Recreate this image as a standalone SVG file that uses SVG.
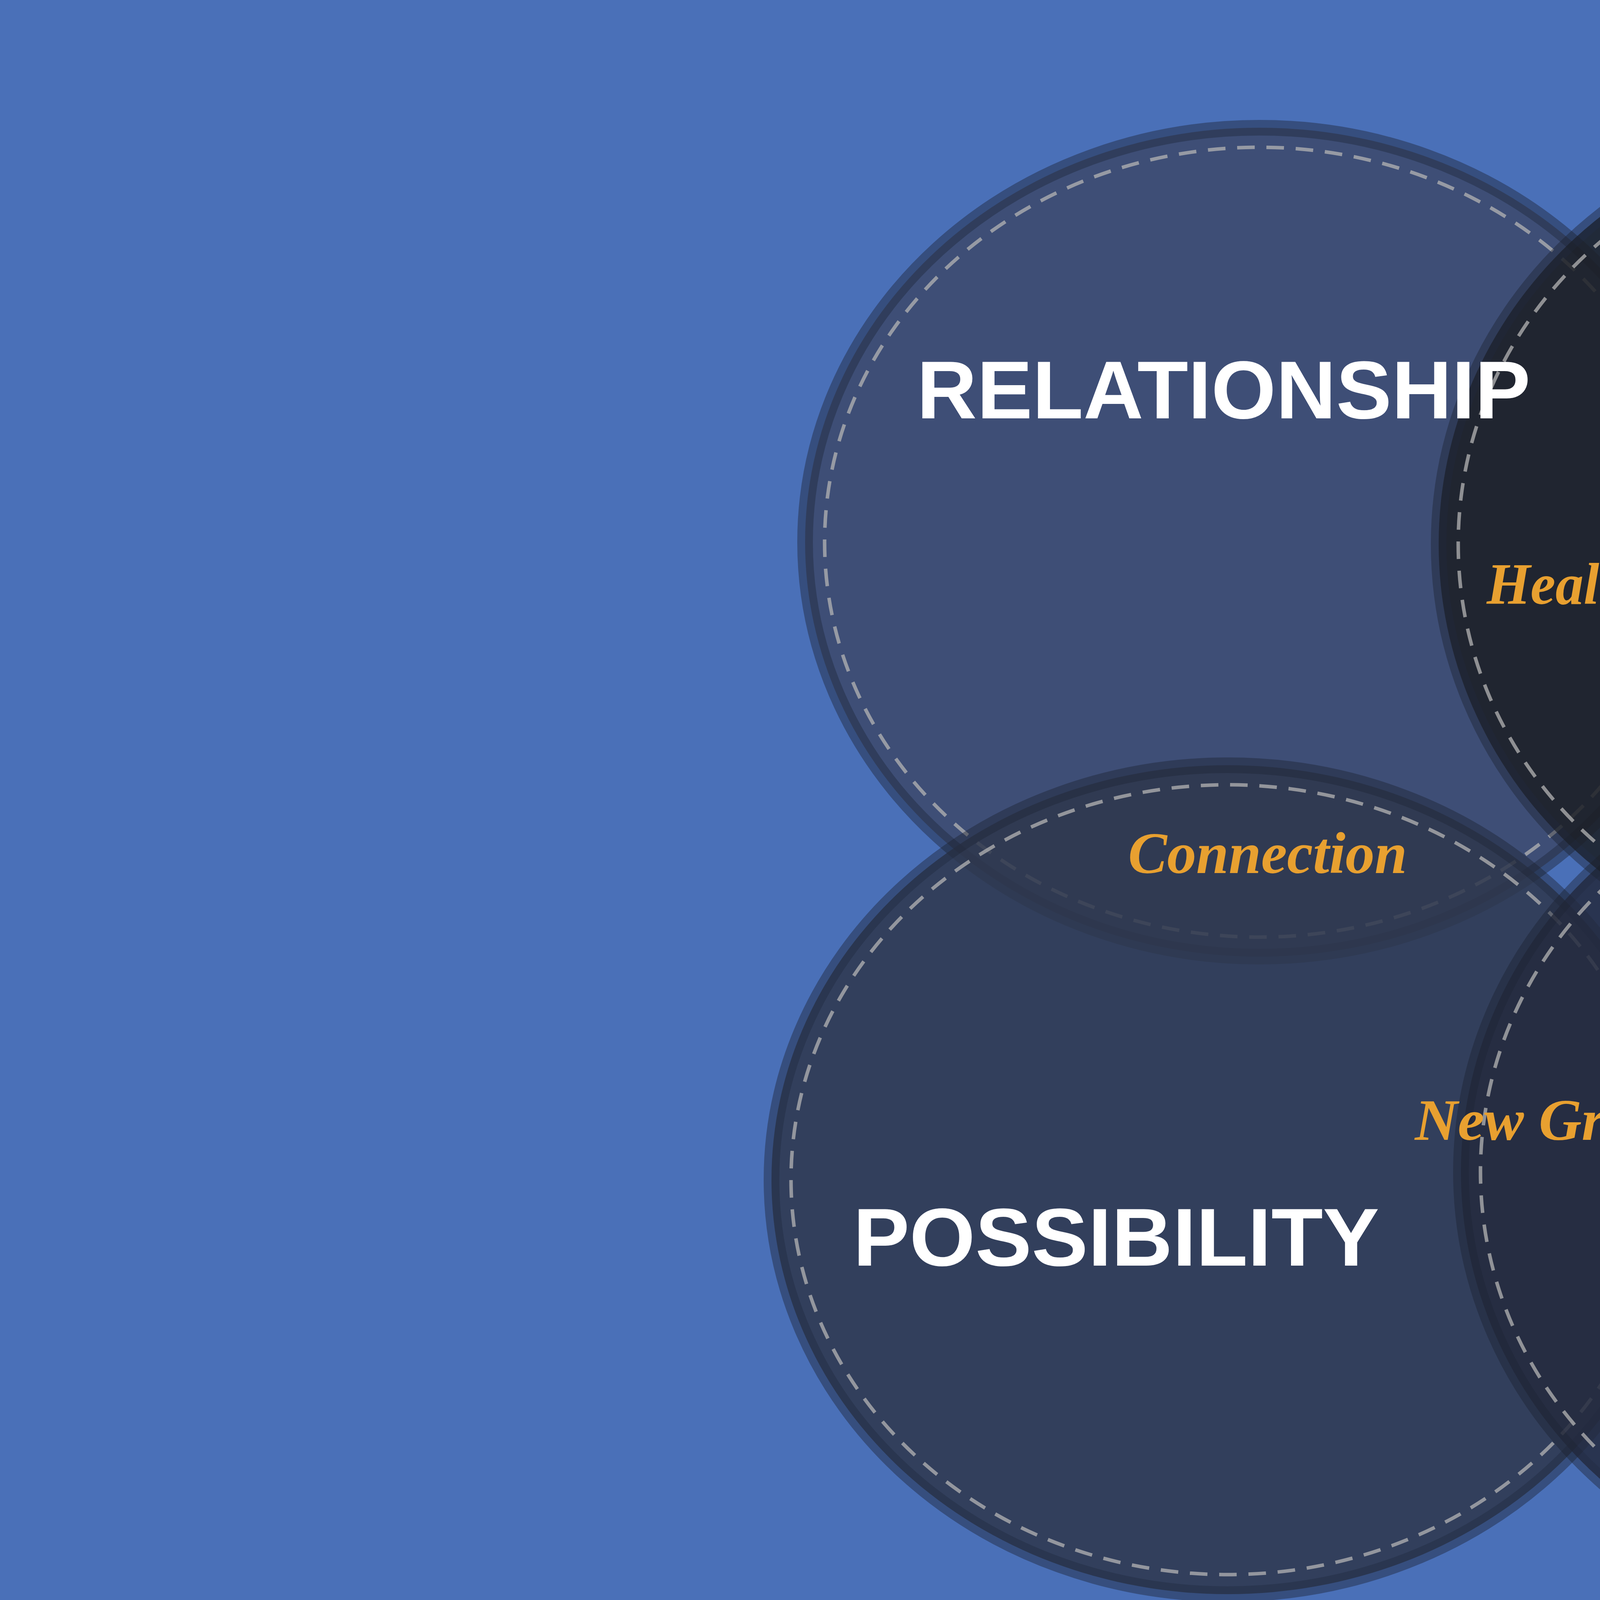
<svg xmlns="http://www.w3.org/2000/svg" width="8000" height="4500" viewBox="0 0 8000 4500">
<style>
.blob{stroke:#1c2130;stroke-opacity:0.5;stroke-width:40;opacity:0.85}
.dash{fill:none;stroke:#b4b4b4;stroke-width:9;stroke-dasharray:45 30;opacity:0.75}
.big{font-family:"Liberation Sans",Arial,sans-serif;font-weight:bold;font-size:210px;fill:#ffffff}
.small{font-family:"Liberation Serif","Times New Roman",serif;font-weight:bold;font-style:italic;font-size:150px;fill:#e8a030}
</style>
<rect width="8000" height="4500" fill="#4a70b8"/>
<g id="relationship">
<ellipse class="blob" cx="3224" cy="1388" rx="1163" ry="1061" fill="#3c496b"/>
<ellipse class="dash" cx="3224" cy="1388" rx="1113" ry="1011"/>
</g>
<g id="possibility">
<ellipse class="blob" cx="3143" cy="3020" rx="1168" ry="1061" fill="#2e374c"/>
<ellipse class="dash" cx="3143" cy="3020" rx="1118" ry="1011"/>
</g>
<g id="generosity">
<ellipse class="blob" cx="4878" cy="3000" rx="1138" ry="1082" fill="#242a3e"/>
<ellipse class="dash" cx="4878" cy="3000" rx="1088" ry="1032"/>
</g>
<g id="belonging">
<ellipse class="blob" cx="4821" cy="1393" rx="1138" ry="1087" fill="#1b1e24"/>
<ellipse class="dash" cx="4821" cy="1393" rx="1088" ry="1037"/>
</g>
<g id="labels">
<text id="t-relationship" class="big" x="2347" y="1071" textLength="1571" lengthAdjust="spacingAndGlyphs">RELATIONSHIP</text>
<text id="t-possibility" class="big" x="2184" y="3240" textLength="1347" lengthAdjust="spacingAndGlyphs">POSSIBILITY</text>
<text id="t-generosity" class="big" x="4362" y="3429" textLength="1373" lengthAdjust="spacingAndGlyphs">GENEROSITY</text>
<text id="t-belonging" class="big" x="4541" y="1337" textLength="1240" lengthAdjust="spacingAndGlyphs">BELONGING</text>
<text class="small" x="3806" y="1546" textLength="480" lengthAdjust="spacingAndGlyphs">Healing</text>
<text class="small" x="2888" y="2235" textLength="714" lengthAdjust="spacingAndGlyphs">Connection</text>
<text class="small" x="4408" y="2235" textLength="704" lengthAdjust="spacingAndGlyphs">Hospitality</text>
<text class="small" x="3622" y="2918" textLength="791" lengthAdjust="spacingAndGlyphs">New Growth</text>
</g>
</svg>
